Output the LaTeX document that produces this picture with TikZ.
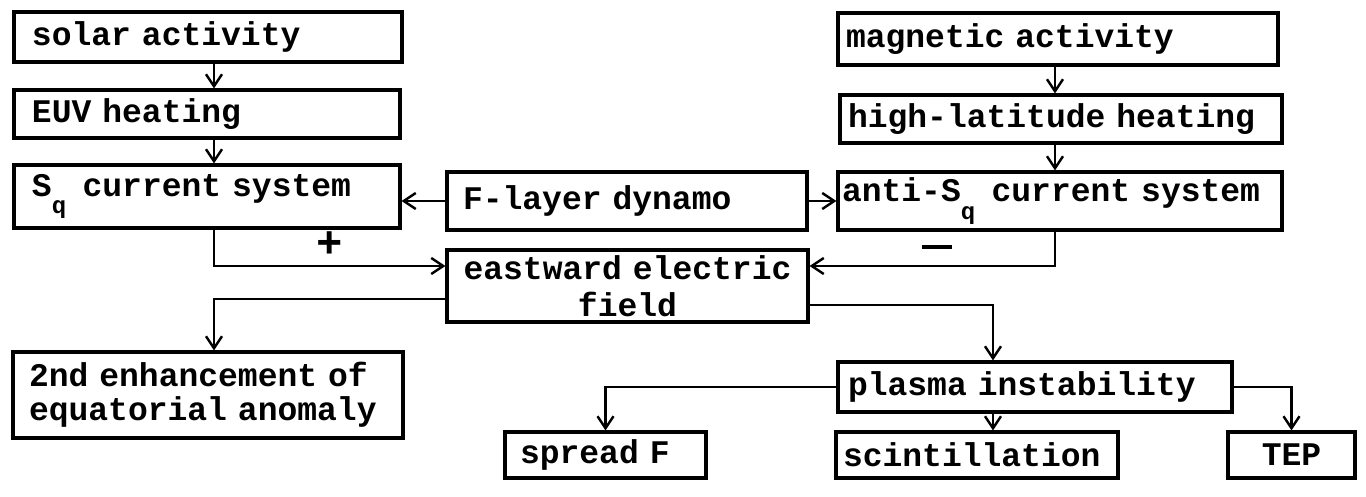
\documentclass[tikz,border=0pt]{standalone}
\usepackage{fontspec}
\newfontfamily\boxfont{Liberation Mono}
\usetikzlibrary{arrows.meta}
\newcommand\subq{\makebox[0.6em][l]{\raisebox{-1.0ex}{\fontsize{12}{12}\selectfont q}}}
\begin{document}
\begin{tikzpicture}[x=0.5pt,y=-0.5pt,
  box/.style={draw, line width=1.6pt, align=left, inner ysep=0pt,
    font=\boxfont\bfseries\fontsize{16.5}{17}\selectfont},
  conn/.style={line width=1.2pt, -{Straight Barb[length=6pt,width=8pt,line width=1.2pt]}},
  lab/.style={inner sep=0pt, font=\boxfont\bfseries\fontsize{22}{22}\selectfont}]
\useasboundingbox (0,0) rectangle (1366,497);
% left column
\node[box, inner xsep=9pt, text width=176pt, minimum height=25pt] (solar) at (208,37) {solar activity};
\node[box, inner xsep=9pt, text width=175pt, minimum height=24pt] (EUV) at (207,114) {EUV heating};
\node[box, inner xsep=9pt, text width=175pt, minimum height=31.5pt] (Sq) at (207,196.5) {S\subq{} current system};
% middle
\node[box, inner xsep=8pt, text width=164pt, minimum height=29pt] (F) at (627,201) {F-layer dynamo};
\node[box, inner xsep=2pt, text width=176.5pt, minimum height=36pt, align=center,
  font=\boxfont\bfseries\fontsize{16.5}{18.5}\selectfont] (east) at (627.5,286) {eastward electric\\field};
% right column
\node[box, inner xsep=4pt, text width=212pt, minimum height=26pt] (mag) at (1058,39) {magnetic activity};
\node[box, inner xsep=4pt, text width=213pt, minimum height=24pt] (high) at (1061,119) {high-latitude heating};
\node[box, inner xsep=2pt, text width=218pt, minimum height=29pt] (anti) at (1060,201) {anti-S\subq{} current system};
% lower
\node[box, inner xsep=8pt, text width=179pt, minimum height=43pt] (second) at (208,395) {2nd enhancement of\\equatorial anomaly};
\node[box, inner xsep=5pt, text width=187pt, minimum height=25pt] (plasma) at (1035,387) {plasma instability};
\node[box, inner xsep=7.5pt, text width=85.5pt, minimum height=23pt] (spread) at (605.5,455) {spread F};
\node[box, inner xsep=3.5pt, text width=134pt, minimum height=23pt] (scint) at (977,455) {scintillation};
\node[box, inner xsep=3pt, text width=57.5pt, minimum height=23pt, align=center] (tep) at (1291.5,455) {TEP};
% helper coordinates
\coordinate (xl) at (214,0);
\coordinate (xr) at (1055,0);
\coordinate (xm) at (993,0);
\coordinate (yin) at (0,266);
\coordinate (yo1) at (0,299);
\coordinate (yo2) at (0,305);
% connectors
\draw[conn] (solar.south -| xl) -- (EUV.north -| xl);
\draw[conn] (EUV.south -| xl) -- (Sq.north -| xl);
\draw[conn] (F.west) -- (F.west -| Sq.east);
\draw[conn] (F.east) -- (F.east -| anti.west);
\draw[conn] (mag.south -| xr) -- (high.north -| xr);
\draw[conn] (high.south -| xr) -- (anti.north -| xr);
\draw[conn] (Sq.south -| xl) |- (east.west |- yin);
\draw[conn] (anti.south -| xr) |- (east.east |- yin);
\draw[conn] (east.west |- yo1) -| (second.north -| xl);
\draw[conn] (east.east |- yo2) -| (plasma.north -| xm);
\draw[conn] (plasma.west) -| (spread.north);
\draw[conn] (plasma.south -| xm) -- (scint.north -| xm);
\draw[conn] (plasma.east) -| (tep.north);
% signs
\node[lab] (plus) at (330,245) {+};
\node[inner sep=0pt] (minus) at (937,247) {\rule{15pt}{1.6pt}};
\end{tikzpicture}
\end{document}
